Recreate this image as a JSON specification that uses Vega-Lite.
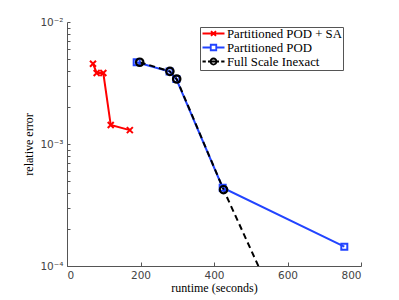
{
  "$schema": "https://vega.github.io/schema/vega-lite/v6.json",
  "width": 294,
  "height": 244,
  "autosize": {"type": "none"},
  "padding": {"left": 67, "top": 22, "right": 38, "bottom": 34},
  "config": {
    "view": {"stroke": null},
    "axis": {
      "grid": false,
      "domainColor": "#555555",
      "tickColor": "#555555",
      "labelColor": "#444444",
      "labelFont": "DejaVu Sans",
      "labelFontSize": 10.5,
      "titleFont": "Liberation Serif",
      "titleFontSize": 12,
      "titleFontWeight": "normal",
      "titleColor": "#000000"
    }
  },
  "data": {
    "values": [
      {"series": "Partitioned POD + SA", "runtime": 70.7, "error": 0.00455},
      {"series": "Partitioned POD + SA", "runtime": 80.8, "error": 0.00382},
      {"series": "Partitioned POD + SA", "runtime": 98.8, "error": 0.00382},
      {"series": "Partitioned POD + SA", "runtime": 119, "error": 0.00143},
      {"series": "Partitioned POD + SA", "runtime": 171, "error": 0.0013},
      {"series": "Partitioned POD", "runtime": 189.6, "error": 0.00468},
      {"series": "Partitioned POD", "runtime": 279, "error": 0.00392},
      {"series": "Partitioned POD", "runtime": 297.5, "error": 0.00341},
      {"series": "Partitioned POD", "runtime": 423.6, "error": 0.000438},
      {"series": "Partitioned POD", "runtime": 754.6, "error": 0.000144},
      {"series": "Full Scale Inexact", "runtime": 197.8, "error": 0.00468},
      {"series": "Full Scale Inexact", "runtime": 280, "error": 0.00394},
      {"series": "Full Scale Inexact", "runtime": 298.5, "error": 0.00341},
      {"series": "Full Scale Inexact", "runtime": 426, "error": 0.000422},
      {"series": "Full Scale Inexact", "runtime": 560, "error": 0.000055}
    ]
  },
  "encoding": {
    "x": {
      "field": "runtime", "type": "quantitative",
      "scale": {"domain": [0, 800], "nice": false},
      "axis": {"title": "runtime (seconds)", "values": [0, 200, 400, 600, 800], "tickSize": -4, "labelPadding": 8, "titlePadding": 2}
    },
    "y": {
      "field": "error", "type": "quantitative",
      "scale": {"type": "log", "domain": [0.0001, 0.01], "nice": false},
      "axis": {
        "title": "relative error",
        "values": [0.0001, 0.0002, 0.0003, 0.0004, 0.0005, 0.0006, 0.0007, 0.0008, 0.0009, 0.001, 0.002, 0.003, 0.004, 0.005, 0.006, 0.007, 0.008, 0.009, 0.01],
        "labelExpr": "datum.value == 0.01 ? '10⁻²' : datum.value == 0.001 ? '10⁻³' : datum.value == 0.0001 ? '10⁻⁴' : ''",
        "tickSize": -3,
        "labelPadding": 7,
        "titlePadding": 4
      }
    },
    "color": {
      "field": "series", "type": "nominal",
      "scale": {"domain": ["Partitioned POD + SA", "Partitioned POD", "Full Scale Inexact"], "range": ["#ff0000", "#2244ff", "#000000"]},
      "legend": {
        "title": null,
        "orient": "none",
        "legendX": 133,
        "legendY": 5,
        "strokeColor": "#555555",
        "fillColor": "#ffffff",
        "padding": 1,
        "rowPadding": 0,
        "clipHeight": 11,
        "symbolSize": 121,
        "symbolOpacity": 1,
        "symbolStrokeWidth": 1.8,
        "symbolOffset": 6,
        "labelOffset": 7,
        "labelFont": "Liberation Serif",
        "labelFontSize": 12.8,
        "labelFontWeight": "normal",
        "labelColor": "#000000",
        "labelLimit": 300
      }
    }
  },
  "layer": [
    {
      "transform": [{"filter": "datum.series != 'Full Scale Inexact'"}],
      "mark": {"type": "line", "clip": true, "strokeWidth": 2}
    },
    {
      "transform": [{"filter": "datum.series == 'Full Scale Inexact'"}],
      "mark": {"type": "line", "clip": true, "strokeWidth": 2, "strokeDash": [6, 4]}
    },
    {
      "transform": [{"filter": "datum.series == 'Partitioned POD + SA'"}],
      "mark": {"type": "point", "clip": true, "shape": "M-1,-1L1,1M-1,1L1,-1", "size": 36, "strokeWidth": 2, "filled": false, "opacity": 1}
    },
    {
      "transform": [{"filter": "datum.series == 'Partitioned POD'"}],
      "mark": {"type": "point", "clip": true, "shape": "square", "size": 36, "strokeWidth": 2, "filled": false, "opacity": 1}
    },
    {
      "transform": [{"filter": "datum.series == 'Full Scale Inexact'"}],
      "mark": {"type": "point", "clip": true, "shape": "circle", "size": 55, "strokeWidth": 2.2, "filled": false, "opacity": 1}
    },
    {
      "mark": {"type": "point", "clip": true, "filled": false, "opacity": 0, "size": 121},
      "encoding": {
        "shape": {
          "field": "series", "type": "nominal",
          "scale": {
            "domain": ["Partitioned POD + SA", "Partitioned POD", "Full Scale Inexact"],
            "range": [
              "M-2,0H2M-0.45,-0.45L0.45,0.45M-0.45,0.45L0.45,-0.45",
              "M-2,0H-0.5M0.5,0H2M-0.5,-0.5H0.5V0.5H-0.5Z",
              "M-2,0H-1.4M-1.0,0H-0.6M0.6,0H1.0M1.4,0H2M0.55,0A0.55,0.55 0 1 1 -0.55,0A0.55,0.55 0 1 1 0.55,0M-0.55,0H0.55"
            ]
          },
          "legend": {
            "title": null,
            "orient": "none",
            "legendX": 133,
            "legendY": 5,
            "strokeColor": "#555555",
            "fillColor": "#ffffff",
            "padding": 1,
            "rowPadding": 0,
            "clipHeight": 11,
            "symbolSize": 121,
            "symbolOpacity": 1,
            "symbolStrokeWidth": 1.8,
            "symbolOffset": 6,
            "labelOffset": 7,
            "labelFont": "Liberation Serif",
            "labelFontSize": 12.8,
            "labelFontWeight": "normal",
            "labelColor": "#000000",
            "labelLimit": 300
          }
        }
      }
    }
  ]
}
